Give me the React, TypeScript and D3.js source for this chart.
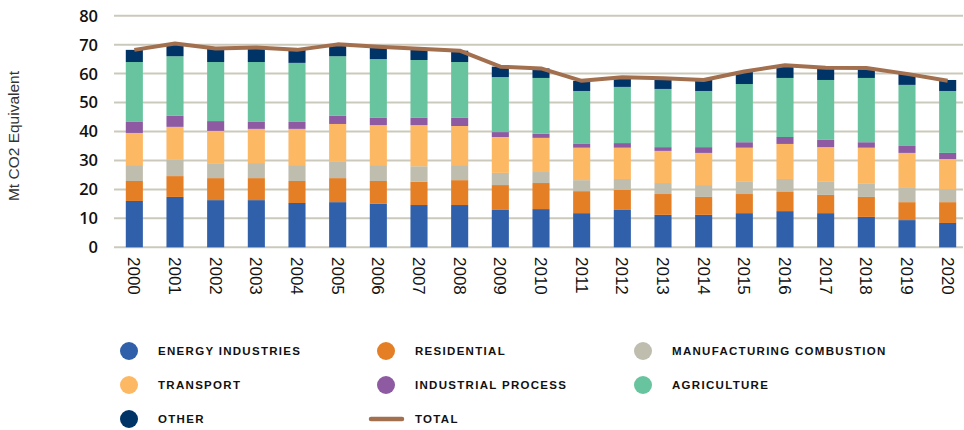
import React from "react";
import * as d3 from "d3";

const years = ["2000","2001","2002","2003","2004","2005","2006","2007","2008","2009","2010","2011","2012","2013","2014","2015","2016","2017","2018","2019","2020"];
const energyIndustries = [16.0,17.4,16.3,16.3,15.3,15.6,15.0,14.6,14.6,12.9,13.2,11.8,12.9,11.2,11.2,11.8,12.5,11.8,10.5,9.4,8.4];
const residential = [6.9,7.2,7.6,7.6,7.6,8.3,7.9,8.0,8.6,8.6,9.0,7.6,6.9,7.2,6.2,6.6,6.6,6.3,6.9,6.2,7.2];
const manufacturingCombustion = [5.5,5.6,4.9,5.2,5.5,5.6,5.5,5.4,5.2,4.2,3.8,3.8,3.8,3.8,4.1,4.2,4.5,4.5,4.5,4.9,4.5];
const transport = [11.1,11.4,11.4,11.8,12.5,13.1,13.8,14.2,13.5,12.4,11.8,11.2,10.8,11.1,11.1,11.8,12.1,12.0,12.5,12.1,10.4];
const industrialProcess = [3.8,3.8,3.4,2.4,2.4,2.8,2.5,2.5,2.8,1.7,1.4,1.3,1.6,1.3,2.0,1.9,2.4,2.5,1.9,2.4,2.1];
const agriculture = [20.7,20.6,20.4,20.7,20.4,20.6,20.3,20.0,19.3,19.0,19.3,18.3,19.4,20.1,19.4,20.1,20.4,20.7,22.2,21.1,21.4];
const other = [4.2,4.4,4.7,5.0,4.5,4.1,4.3,3.9,3.9,3.6,3.3,3.5,3.3,3.7,3.8,4.3,4.4,4.2,3.4,3.8,3.8];
const total = [68.2,70.4,68.7,69.0,68.2,70.1,69.3,68.6,67.9,62.4,61.8,57.5,58.7,58.4,57.8,60.7,62.9,62.0,61.9,59.9,57.5];
const yTicks = [0,10,20,30,40,50,60,70,80];

const seriesKeys = ["energy","residential","manufacturing","transport","industrial","agriculture","other"];
const seriesLabels = ["ENERGY INDUSTRIES","RESIDENTIAL","MANUFACTURING COMBUSTION","TRANSPORT","INDUSTRIAL PROCESS","AGRICULTURE","OTHER"];
const seriesColors = ["#3060a9","#e57f26","#bfbdae","#fdb863","#8e5ba3","#68c49f","#003366"];
const totalColor = "#a3704f";

export default function App() {
  const width = 964, height = 430;
  const x = d3.scaleBand().domain(years).range([114, 968]).paddingInner(0.58).paddingOuter(0.29);
  const y = d3.scaleLinear().domain([0, 80]).range([247.3, 15.7]);

  const seriesData = [energyIndustries, residential, manufacturingCombustion, transport, industrialProcess, agriculture, other];
  const rows = years.map((yr, i) => {
    const r: any = { year: yr };
    seriesKeys.forEach((k, j) => (r[k] = seriesData[j][i]));
    return r;
  });
  const stacked = d3.stack().keys(seriesKeys)(rows);

  const line = d3.line<number>()
    .x((_, i) => (x(years[i]) as number) + x.bandwidth() / 2)
    .y((d) => y(d));

  const legendPos = [
    [129, 351], [386, 351], [643, 351],
    [129, 385], [386, 385], [643, 385],
    [129, 419],
  ];

  return (
    <svg width={width} height={height} style={{ position: "absolute", left: 0, top: 0, background: "#fff" }}>
      {yTicks.map((t) => (
        <g key={t}>
          <line x1={114} x2={963} y1={y(t)} y2={y(t)} stroke="#cbc9bc" strokeWidth={2} />
          <text x={98} y={y(t)} dy="0.36em" textAnchor="end" fontFamily="'Open Sans', sans-serif" fontWeight={600} fontSize={16.5} fill="#111">{t}</text>
        </g>
      ))}
      <text transform={`translate(18.5,136) rotate(-90)`} textAnchor="middle" fontFamily="'Liberation Sans', Arial, sans-serif" fontSize={15.5} fill="#333">Mt CO2 Equivalent</text>
      {stacked.map((s, j) => (
        <g key={s.key} fill={seriesColors[j]}>
          {s.map((d, i) => (
            <rect key={i} x={x(years[i])} width={x.bandwidth()} y={y(d[1])} height={y(d[0]) - y(d[1])} />
          ))}
        </g>
      ))}
      <path d={line(total) || ""} fill="none" stroke={totalColor} strokeWidth={4} strokeLinejoin="round" />
      {years.map((yr) => (
        <text key={yr} transform={`translate(${(x(yr) as number) + x.bandwidth() / 2},257) rotate(90)`} dy="0.35em" fontFamily="'Liberation Sans', Arial, sans-serif" fontSize={17} fill="#111">{yr}</text>
      ))}
      {seriesLabels.map((lab, j) => (
        <g key={lab}>
          <circle cx={legendPos[j][0]} cy={legendPos[j][1]} r={9} fill={seriesColors[j]} />
          <text x={legendPos[j][0] + 29} y={legendPos[j][1]} dy="0.36em" fontFamily="'Liberation Sans', Arial, sans-serif" fontWeight={700} fontSize={11.5} letterSpacing={1.3} fill="#111">{lab}</text>
        </g>
      ))}
      <line x1={371} x2={402} y1={419} y2={419} stroke={totalColor} strokeWidth={4.5} strokeLinecap="round" />
      <text x={415} y={419} dy="0.36em" fontFamily="'Liberation Sans', Arial, sans-serif" fontWeight={700} fontSize={11.5} letterSpacing={1.3} fill="#111">TOTAL</text>
    </svg>
  );
}
